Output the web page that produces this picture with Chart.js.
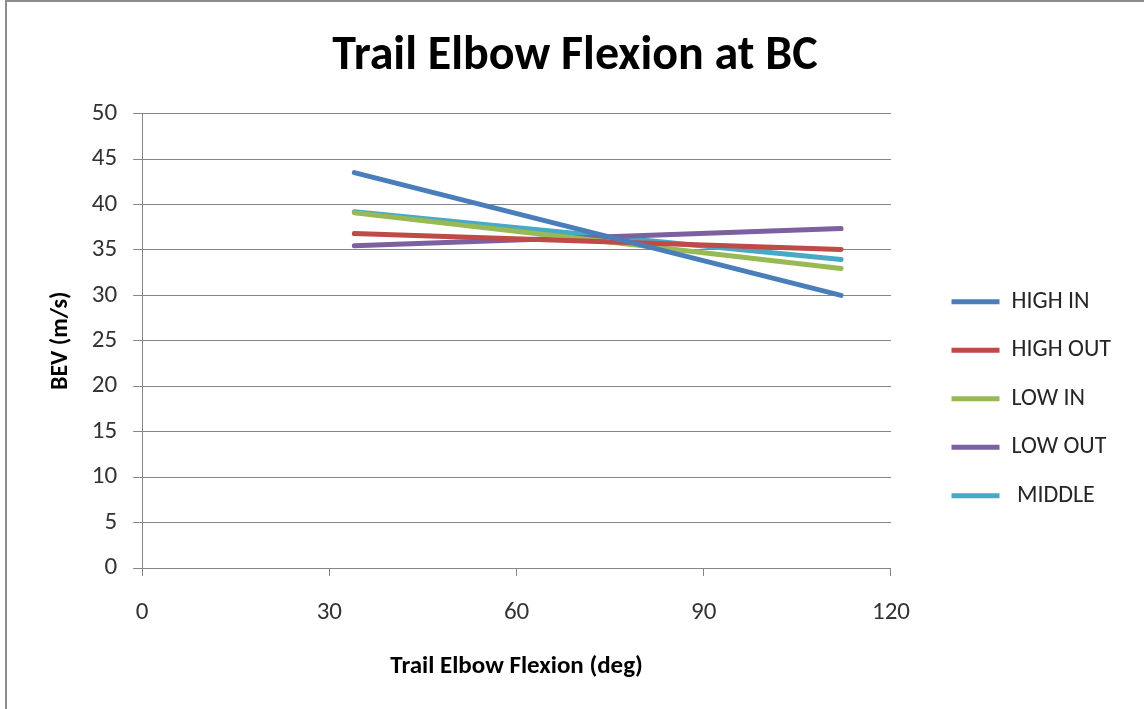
<!DOCTYPE html>
<html>
<head>
<meta charset="utf-8">
<script src="https://cdn.jsdelivr.net/npm/chart.js@4/dist/chart.umd.min.js"></script>
<style>
  html, body { margin: 0; padding: 0; background: #fff; }
  #frame {
    position: absolute; left: 5px; top: 0px;
    width: 1139px; height: 709px;
    border-left: 2px solid #8c8c8c; border-top: 2px solid #8c8c8c;
    box-sizing: border-box;
  }
</style>
</head>
<body>
<div id="frame"><canvas id="elbowChart"></canvas></div>
<script>
// values
var flexion = [34, 112];
var highIn  = [43.5, 30.0];
var highOut = [36.8, 35.05];
var lowIn   = [39.1, 32.95];
var lowOut  = [35.45, 37.35];
var middle  = [39.2, 33.95];

var seriesNames = ["HIGH IN", "HIGH OUT", "LOW IN", "LOW OUT", " MIDDLE"];
var seriesColors = ["#4a7ebb", "#be4b48", "#98b954", "#7d60a0", "#46aac5"];
var seriesValues = [highIn, highOut, lowIn, lowOut, middle];

var fontFam = "Carlito, Lato, 'Open Sans', sans-serif";

function points(vals) {
  var pts = [];
  for (var i = 0; i < flexion.length; i++) pts.push({x: flexion[i], y: vals[i]});
  return pts;
}

var datasets = [];
for (var s = 0; s < seriesNames.length; s++) {
  datasets.push({
    label: seriesNames[s],
    data: points(seriesValues[s]),
    borderColor: seriesColors[s],
    backgroundColor: seriesColors[s],
    borderWidth: 5,
    borderCapStyle: "round",
    pointRadius: 0,
    fill: false
  });
}

var canvasElbow = document.getElementById("elbowChart");
var elbowChart = new Chart(canvasElbow, {
  type: "line",
  data: { datasets: datasets },
  options: {
    responsive: true,
    maintainAspectRatio: false,
    animation: false,
    layout: { padding: { left: 22, right: 23, top: 10, bottom: 23 } },
    plugins: {
      title: {
        display: true,
        text: "Trail Elbow Flexion at BC",
        color: "#000",
        font: { family: fontFam, size: 48, weight: "bold" },
        padding: { top: 16, bottom: 28 }
      },
      legend: {
        position: "right",
        title: { display: true, text: "", font: { size: 12 }, padding: { top: 85, bottom: 0 } },
        labels: {
          color: "#262626",
          font: { family: fontFam, size: 24 },
          usePointStyle: true,
          pointStyle: "line",
          pointStyleWidth: 48,
          padding: 24.5
        }
      },
      tooltip: { enabled: false }
    },
    scales: {
      x: {
        type: "linear",
        min: 0, max: 120,
        ticks: { stepSize: 30, color: "#333", padding: 22, font: { family: fontFam, size: 25 } },
        grid: { drawOnChartArea: false, drawTicks: true, tickLength: 8, color: "#868686" },
        border: { color: "#868686", width: 1 },
        title: {
          display: true,
          text: "Trail Elbow Flexion (deg)",
          color: "#000",
          font: { family: fontFam, size: 25, weight: "bold" },
          padding: { top: 2, bottom: 4 }
        }
      },
      y: {
        min: 0, max: 50,
        ticks: { stepSize: 5, color: "#333", padding: 16, font: { family: fontFam, size: 25 } },
        grid: { color: "#868686", tickLength: 9 },
        border: { color: "#868686", width: 1 },
        title: {
          display: true,
          text: "BEV (m/s)",
          color: "#000",
          font: { family: fontFam, size: 24, weight: "bold" },
          padding: { top: 18, bottom: 0 }
        }
      },
      // hidden spacer between the plot and the legend
      gap: {
        position: "right",
        display: false,
        afterFit: function(scale) { scale.width = 36; }
      }
    }
  }
});
</script>
</body>
</html>
